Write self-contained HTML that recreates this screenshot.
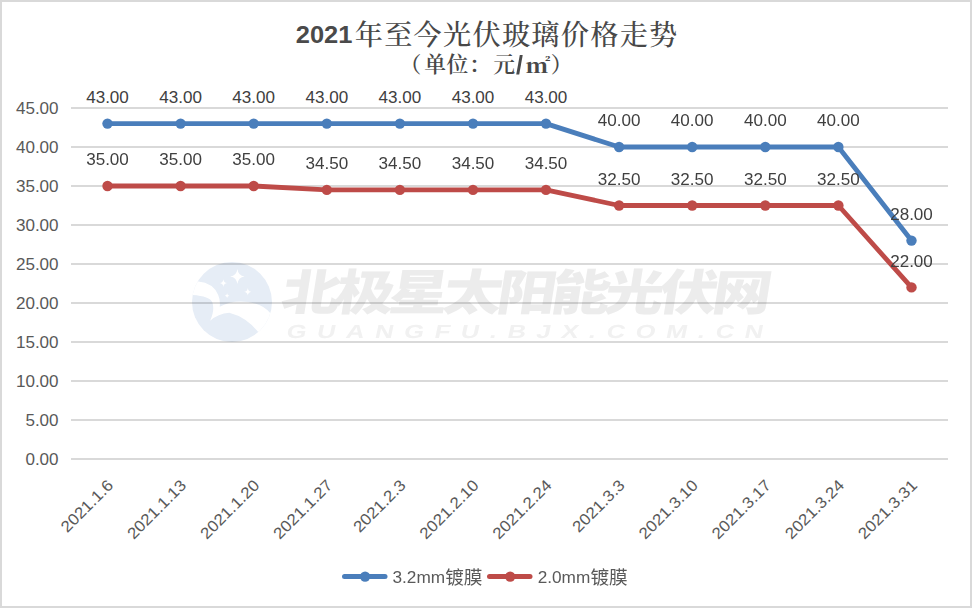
<!DOCTYPE html>
<html lang="zh-CN"><head><meta charset="utf-8"><title>2021年至今光伏玻璃价格走势</title>
<style>
html,body{margin:0;padding:0;background:#fff;}
body{width:972px;height:609px;overflow:hidden;}
svg{display:block;}
.ax{font-family:"Liberation Sans", "Noto Sans CJK SC", sans-serif;font-size:15.8px;fill:#595959;}
.dl{font-family:"Liberation Sans", "Noto Sans CJK SC", sans-serif;font-size:15.8px;fill:#404040;text-anchor:middle;}
.lg{font-family:"Liberation Sans", "Noto Sans CJK SC", sans-serif;fill:#595959;}
.t1{font-family:"Liberation Serif", "Noto Serif CJK SC", serif;font-weight:500;fill:#484848;}
.t1n{font-family:"Liberation Sans", "Noto Sans CJK SC", sans-serif;font-weight:bold;fill:#4a4a4a;}
.wmc{font-family:"Liberation Sans", "Noto Sans CJK SC", sans-serif;}
</style></head><body>
<svg width="972" height="609" viewBox="0 0 972 609">
<rect x="0" y="0" width="972" height="609" fill="#ffffff"/>
<rect x="1" y="1" width="970" height="606" fill="none" stroke="#d9d9d9" stroke-width="2"/>
<g stroke="#d9d9d9" stroke-width="2" shape-rendering="crispEdges">
<line x1="71" y1="459.0" x2="948" y2="459.0"/>
<line x1="71" y1="420.0" x2="948" y2="420.0"/>
<line x1="71" y1="381.0" x2="948" y2="381.0"/>
<line x1="71" y1="342.0" x2="948" y2="342.0"/>
<line x1="71" y1="303.0" x2="948" y2="303.0"/>
<line x1="71" y1="264.0" x2="948" y2="264.0"/>
<line x1="71" y1="225.0" x2="948" y2="225.0"/>
<line x1="71" y1="186.0" x2="948" y2="186.0"/>
<line x1="71" y1="147.0" x2="948" y2="147.0"/>
<line x1="71" y1="108.0" x2="948" y2="108.0"/>
</g>
<g style="mix-blend-mode:multiply">
<defs><clipPath id="wc"><circle cx="232" cy="302" r="40"/></clipPath></defs>
<circle cx="232" cy="302" r="40" fill="#e6edf6"/>
<g clip-path="url(#wc)" fill="#ffffff">
<path d="M198.3,281.6 Q213,283 218.2,294.9 Q220.5,300 219.7,306.7 Q236,298 255.9,303.8 Q264,306 270.7,313.4 L280,322 L262,338 L257.4,331.1 Q246,317 229.3,312.7 Q218,313.5 210.1,320.8 Q215,310 212.3,302.3 Q210,296 192.4,294.9 L185,294 L190,278 Z"/>
<path d="M237.4,268.9 Q238.2208,275.6792 244.62,276.5 Q238.2208,277.3208 237.4,284.1 Q236.57920000000001,277.3208 230.18,276.5 Q236.57920000000001,275.6792 237.4,268.9 Z"/>
<path d="M223.4,279.3 Q223.81040000000002,282.68960000000004 227.01000000000002,283.1 Q223.81040000000002,283.5104 223.4,286.90000000000003 Q222.9896,283.5104 219.79,283.1 Q222.9896,282.68960000000004 223.4,279.3 Z"/>
<path d="M247.8,287.9 Q248.21040000000002,291.2896 251.41000000000003,291.7 Q248.21040000000002,292.11039999999997 247.8,295.5 Q247.3896,292.11039999999997 244.19,291.7 Q247.3896,291.2896 247.8,287.9 Z"/>
<path d="M227.1,293.3 Q227.3592,295.44079999999997 229.38,295.7 Q227.3592,295.9592 227.1,298.09999999999997 Q226.8408,295.9592 224.82,295.7 Q226.8408,295.44079999999997 227.1,293.3 Z"/>
</g>
<text class="wmc" font-size="48.5" font-weight="900" fill="#ececec" transform="translate(279.6,309.5) skewX(-9) scale(1.22,1)" textLength="401.5" lengthAdjust="spacing">北极星太阳能光伏网</text>
<text class="wmc" font-size="19" font-weight="bold" fill="#f1f1f1" transform="translate(285.5,338.3) skewX(-12) scale(1.35,1)" textLength="353" lengthAdjust="spacing">GUANGFU.BJX.COM.CN</text>
</g>
<text class="ax" text-anchor="end" transform="translate(58.6,464.6) scale(1.08,1)">0.00</text>
<text class="ax" text-anchor="end" transform="translate(58.6,425.6) scale(1.08,1)">5.00</text>
<text class="ax" text-anchor="end" transform="translate(58.6,386.6) scale(1.08,1)">10.00</text>
<text class="ax" text-anchor="end" transform="translate(58.6,347.6) scale(1.08,1)">15.00</text>
<text class="ax" text-anchor="end" transform="translate(58.6,308.6) scale(1.08,1)">20.00</text>
<text class="ax" text-anchor="end" transform="translate(58.6,269.6) scale(1.08,1)">25.00</text>
<text class="ax" text-anchor="end" transform="translate(58.6,230.6) scale(1.08,1)">30.00</text>
<text class="ax" text-anchor="end" transform="translate(58.6,191.6) scale(1.08,1)">35.00</text>
<text class="ax" text-anchor="end" transform="translate(58.6,152.6) scale(1.08,1)">40.00</text>
<text class="ax" text-anchor="end" transform="translate(58.6,113.6) scale(1.08,1)">45.00</text>
<text class="ax" text-anchor="end" transform="translate(114.2,486.3) rotate(-45) scale(1.08,1)">2021.1.6</text>
<text class="ax" text-anchor="end" transform="translate(187.3,486.3) rotate(-45) scale(1.08,1)">2021.1.13</text>
<text class="ax" text-anchor="end" transform="translate(260.4,486.3) rotate(-45) scale(1.08,1)">2021.1.20</text>
<text class="ax" text-anchor="end" transform="translate(333.5,486.3) rotate(-45) scale(1.08,1)">2021.1.27</text>
<text class="ax" text-anchor="end" transform="translate(406.6,486.3) rotate(-45) scale(1.08,1)">2021.2.3</text>
<text class="ax" text-anchor="end" transform="translate(479.7,486.3) rotate(-45) scale(1.08,1)">2021.2.10</text>
<text class="ax" text-anchor="end" transform="translate(552.7,486.3) rotate(-45) scale(1.08,1)">2021.2.24</text>
<text class="ax" text-anchor="end" transform="translate(625.8,486.3) rotate(-45) scale(1.08,1)">2021.3.3</text>
<text class="ax" text-anchor="end" transform="translate(698.9,486.3) rotate(-45) scale(1.08,1)">2021.3.10</text>
<text class="ax" text-anchor="end" transform="translate(772.0,486.3) rotate(-45) scale(1.08,1)">2021.3.17</text>
<text class="ax" text-anchor="end" transform="translate(845.1,486.3) rotate(-45) scale(1.08,1)">2021.3.24</text>
<text class="ax" text-anchor="end" transform="translate(918.2,486.3) rotate(-45) scale(1.08,1)">2021.3.31</text>
<polyline points="107.5,123.6 180.6,123.6 253.7,123.6 326.8,123.6 399.9,123.6 473.0,123.6 546.0,123.6 619.1,147.0 692.2,147.0 765.3,147.0 838.4,147.0 911.5,240.6" fill="none" stroke="#4a7ebb" stroke-width="4.8" stroke-linejoin="round" stroke-linecap="round"/>
<circle cx="107.5" cy="123.6" r="5.2" fill="#4a7ebb"/>
<circle cx="180.6" cy="123.6" r="5.2" fill="#4a7ebb"/>
<circle cx="253.7" cy="123.6" r="5.2" fill="#4a7ebb"/>
<circle cx="326.8" cy="123.6" r="5.2" fill="#4a7ebb"/>
<circle cx="399.9" cy="123.6" r="5.2" fill="#4a7ebb"/>
<circle cx="473.0" cy="123.6" r="5.2" fill="#4a7ebb"/>
<circle cx="546.0" cy="123.6" r="5.2" fill="#4a7ebb"/>
<circle cx="619.1" cy="147.0" r="5.2" fill="#4a7ebb"/>
<circle cx="692.2" cy="147.0" r="5.2" fill="#4a7ebb"/>
<circle cx="765.3" cy="147.0" r="5.2" fill="#4a7ebb"/>
<circle cx="838.4" cy="147.0" r="5.2" fill="#4a7ebb"/>
<circle cx="911.5" cy="240.6" r="5.2" fill="#4a7ebb"/>
<polyline points="107.5,186.0 180.6,186.0 253.7,186.0 326.8,189.9 399.9,189.9 473.0,189.9 546.0,189.9 619.1,205.5 692.2,205.5 765.3,205.5 838.4,205.5 911.5,287.4" fill="none" stroke="#be4b48" stroke-width="4.8" stroke-linejoin="round" stroke-linecap="round"/>
<circle cx="107.5" cy="186.0" r="5.2" fill="#be4b48"/>
<circle cx="180.6" cy="186.0" r="5.2" fill="#be4b48"/>
<circle cx="253.7" cy="186.0" r="5.2" fill="#be4b48"/>
<circle cx="326.8" cy="189.9" r="5.2" fill="#be4b48"/>
<circle cx="399.9" cy="189.9" r="5.2" fill="#be4b48"/>
<circle cx="473.0" cy="189.9" r="5.2" fill="#be4b48"/>
<circle cx="546.0" cy="189.9" r="5.2" fill="#be4b48"/>
<circle cx="619.1" cy="205.5" r="5.2" fill="#be4b48"/>
<circle cx="692.2" cy="205.5" r="5.2" fill="#be4b48"/>
<circle cx="765.3" cy="205.5" r="5.2" fill="#be4b48"/>
<circle cx="838.4" cy="205.5" r="5.2" fill="#be4b48"/>
<circle cx="911.5" cy="287.4" r="5.2" fill="#be4b48"/>
<text class="dl" transform="translate(107.5,102.8) scale(1.08,1)">43.00</text>
<text class="dl" transform="translate(180.6,102.8) scale(1.08,1)">43.00</text>
<text class="dl" transform="translate(253.7,102.8) scale(1.08,1)">43.00</text>
<text class="dl" transform="translate(326.8,102.8) scale(1.08,1)">43.00</text>
<text class="dl" transform="translate(399.9,102.8) scale(1.08,1)">43.00</text>
<text class="dl" transform="translate(473.0,102.8) scale(1.08,1)">43.00</text>
<text class="dl" transform="translate(546.0,102.8) scale(1.08,1)">43.00</text>
<text class="dl" transform="translate(619.1,126.2) scale(1.08,1)">40.00</text>
<text class="dl" transform="translate(692.2,126.2) scale(1.08,1)">40.00</text>
<text class="dl" transform="translate(765.3,126.2) scale(1.08,1)">40.00</text>
<text class="dl" transform="translate(838.4,126.2) scale(1.08,1)">40.00</text>
<text class="dl" transform="translate(911.5,219.8) scale(1.08,1)">28.00</text>
<text class="dl" transform="translate(107.5,165.2) scale(1.08,1)">35.00</text>
<text class="dl" transform="translate(180.6,165.2) scale(1.08,1)">35.00</text>
<text class="dl" transform="translate(253.7,165.2) scale(1.08,1)">35.00</text>
<text class="dl" transform="translate(326.8,169.1) scale(1.08,1)">34.50</text>
<text class="dl" transform="translate(399.9,169.1) scale(1.08,1)">34.50</text>
<text class="dl" transform="translate(473.0,169.1) scale(1.08,1)">34.50</text>
<text class="dl" transform="translate(546.0,169.1) scale(1.08,1)">34.50</text>
<text class="dl" transform="translate(619.1,184.7) scale(1.08,1)">32.50</text>
<text class="dl" transform="translate(692.2,184.7) scale(1.08,1)">32.50</text>
<text class="dl" transform="translate(765.3,184.7) scale(1.08,1)">32.50</text>
<text class="dl" transform="translate(838.4,184.7) scale(1.08,1)">32.50</text>
<text class="dl" transform="translate(911.5,266.6) scale(1.08,1)">22.00</text>
<text class="t1n" x="295.8" y="43.4" font-size="24.4" textLength="56.6" lengthAdjust="spacingAndGlyphs">2021</text>
<text class="t1" x="354.7" y="44.6" font-size="28.2" textLength="322.6" lengthAdjust="spacing">年至今光伏玻璃价格走势</text>
<text class="t1" style="font-weight:600" x="410.4" y="72.3" font-size="21.8" text-anchor="middle">（</text>
<text class="t1" style="font-weight:600" x="435.2" y="72.3" font-size="21.8" text-anchor="middle">单</text>
<text class="t1" style="font-weight:600" x="457.4" y="72.3" font-size="21.8" text-anchor="middle">位</text>
<text class="t1" style="font-weight:600" x="479.8" y="72.3" font-size="21.8" text-anchor="middle">：</text>
<text class="t1" style="font-weight:600" x="504.1" y="72.3" font-size="21.8" text-anchor="middle">元</text>
<text class="t1" style="font-weight:600" x="561.6" y="72.3" font-size="21.8" text-anchor="middle">）</text>
<text class="t1" style="font-weight:700" text-anchor="middle" font-size="21.8" transform="translate(538,72.8) scale(1.13,0.9)">㎡</text>
<text class="t1n" x="519.4" y="73.5" font-size="25" text-anchor="middle">/</text>
<line x1="344.5" y1="576.6" x2="385" y2="576.6" stroke="#4a7ebb" stroke-width="5" stroke-linecap="round"/><circle cx="365.1" cy="576.6" r="5.2" fill="#4a7ebb"/>
<text class="lg" x="392.5" y="583" font-size="15.8" textLength="52.6" lengthAdjust="spacingAndGlyphs">3.2mm</text><text class="lg" x="445.2" y="584.2" font-size="18.7">镀膜</text>
<line x1="489.5" y1="576.6" x2="530" y2="576.6" stroke="#be4b48" stroke-width="5" stroke-linecap="round"/><circle cx="510.2" cy="576.6" r="5.2" fill="#be4b48"/>
<text class="lg" x="537.7" y="583" font-size="15.8" textLength="52.6" lengthAdjust="spacingAndGlyphs">2.0mm</text><text class="lg" x="590.4" y="584.2" font-size="18.7">镀膜</text>
</svg></body></html>
